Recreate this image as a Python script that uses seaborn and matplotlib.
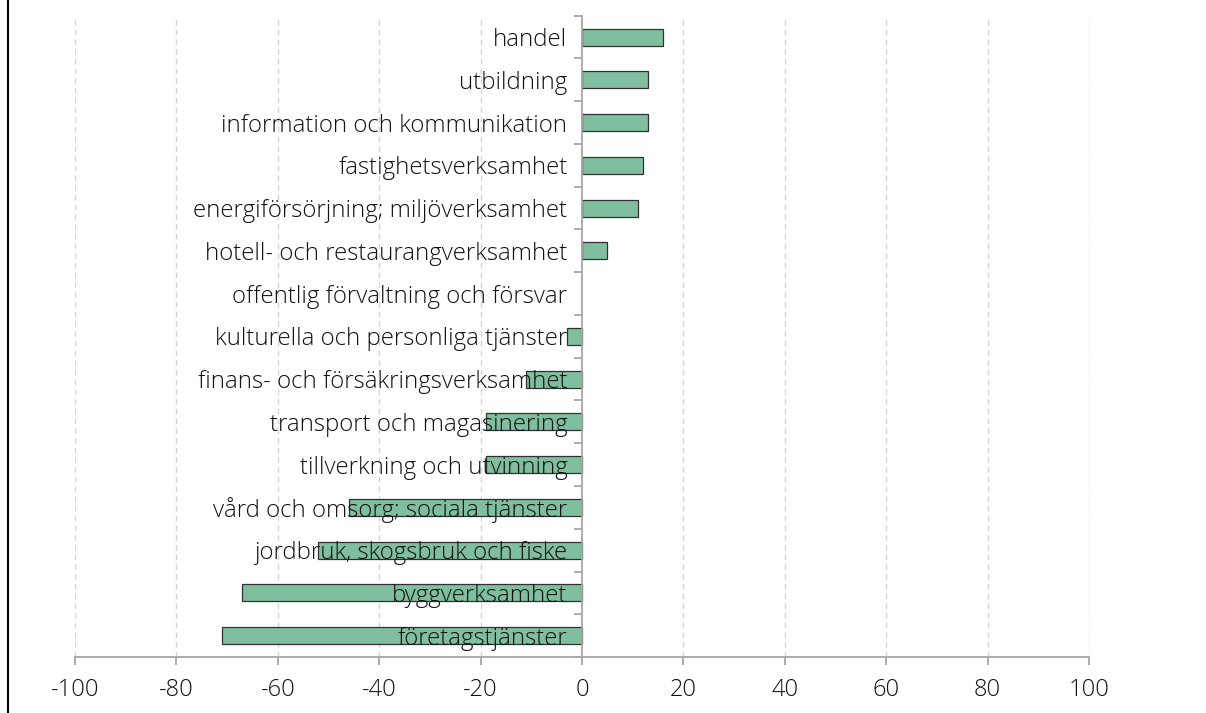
import matplotlib
matplotlib.use("Agg")
import matplotlib.pyplot as plt
import seaborn as sns
import numpy as np
import pandas as pd
from matplotlib.lines import Line2D

categories = [
    "handel",
    "utbildning",
    "information och kommunikation",
    "fastighetsverksamhet",
    "energiförsörjning; miljöverksamhet",
    "hotell- och restaurangverksamhet",
    "offentlig förvaltning och försvar",
    "kulturella och personliga tjänster",
    "finans- och försäkringsverksamhet",
    "transport och magasinering",
    "tillverkning och utvinning",
    "vård och omsorg; sociala tjänster",
    "jordbruk, skogsbruk och fiske",
    "byggverksamhet",
    "företagstjänster",
]
values = [16, 13, 13, 12, 11, 5, 0, -3, -11, -19, -19, -46, -52, -67, -71]
x_ticks = [-100, -80, -60, -40, -20, 0, 20, 40, 60, 80, 100]

sns.set_theme(style="white")
plt.rcParams["font.family"] = ["Open Sans", "DejaVu Sans"]
plt.rcParams["font.weight"] = "light"

df = pd.DataFrame({"kategori": categories, "varde": values})

fig = plt.figure(figsize=(12.06, 7.13), dpi=100)
ax = fig.add_axes([0.0622, 0.0785, 0.903 - 0.0622, 0.9780 - 0.0785])

sns.barplot(data=df, y="kategori", x="varde", order=categories, orient="h",
            color="#7fbf9f", saturation=1, width=0.4,
            edgecolor="#303030", linewidth=0.9, ax=ax, zorder=1)
for p in ax.patches:
    if abs(p.get_width()) < 1e-9:
        p.set_visible(False)

ax.set_axisbelow(False)
ax.set_xlim(-100, 100)
ax.set_ylim(14.5, -0.5)
ax.set_xticks(x_ticks)
ax.set_xticklabels([str(t) for t in x_ticks])
for t in x_ticks:
    if t != 0:
        ax.axvline(t, color="#d4d4d4", linestyle=(0, (4, 3)), linewidth=1.0, zorder=0)

ax.set_xlabel("")
ax.set_ylabel("")

for s in ["top", "right"]:
    ax.spines[s].set_visible(False)
ax.spines["left"].set_position(("data", 0))
ax.spines["left"].set_color("#a6a6a6")
ax.spines["left"].set_linewidth(1.3)
ax.spines["left"].set_zorder(4)
ax.spines["bottom"].set_color("#a6a6a6")
ax.spines["bottom"].set_linewidth(1.3)

ax.set_yticks(np.arange(-0.5, 15, 1), minor=True)
ax.tick_params(axis="y", which="major", length=0, pad=10.5, labelsize=17.3, labelcolor="#111111")
ax.tick_params(axis="y", which="minor", length=5.5, width=1.3, color="#a6a6a6", direction="out")
ax.tick_params(axis="x", which="major", length=5.5, width=1.3, color="#a6a6a6",
               direction="out", pad=9.5, labelsize=17, labelcolor="#111111")
ax.tick_params(left=True, bottom=True)
ax.yaxis.set_ticks_position("left")

fig.add_artist(Line2D([8 / 1206, 8 / 1206], [0, 1], transform=fig.transFigure,
                      color="black", linewidth=1.5))

fig.savefig("out.png", dpi=100)
